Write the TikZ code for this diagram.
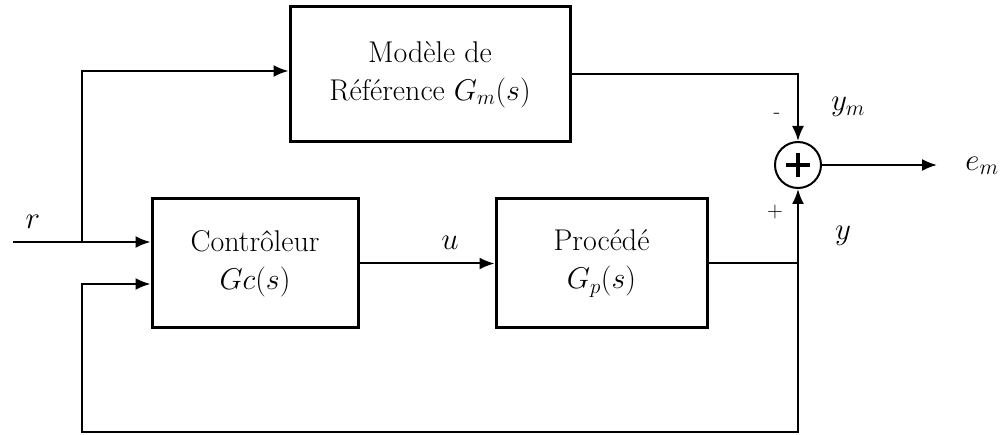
\RequirePackage{fix-cm}
\documentclass[tikz,border=0pt]{standalone}
\usepackage{fontspec}
\usetikzlibrary{arrows.meta,calc}
\begin{document}
\begin{tikzpicture}[x=1pt,y=-1pt,
  blk/.style={draw,line width=3pt,align=center,inner sep=0pt,font=\fontsize{30}{36}\selectfont},
  conn/.style={line width=2pt},
  arr/.style={line width=2pt,-{Latex[length=15pt,width=12pt]}},
  lbl/.style={font=\fontsize{31}{36}\selectfont,inner sep=0pt},
  sgn/.style={font=\fontsize{22}{24}\selectfont,inner sep=0pt}]
\useasboundingbox (0,0) rectangle (1006,435);
% blocks
\node[blk,minimum width=280pt,minimum height=135pt] (ref) at (430,74.5) {Modèle de\\[2pt]Référence $G_m(s)$};
\node[blk,minimum width=206pt,minimum height=129pt] (ctrl) at (255,263.5) {Contrôleur\\[2pt]$Gc(s)$};
\node[blk,minimum width=211pt,minimum height=129pt] (proc) at (601.5,263.5) {Procédé\\[2pt]$G_p(s)$};
\node[draw,circle,line width=2pt,minimum size=46pt,inner sep=0pt] (sum) at (798,165) {};
\draw[line width=4.5pt] ($(sum.center)+(-12,0)$) -- ($(sum.center)+(12,0)$)
  ($(sum.center)+(0,-12)$) -- ($(sum.center)+(0,12)$);
% coordinates
\coordinate (rin) at (13,242);
\coordinate (br) at (82,242);
\coordinate (t1) at (82,71);
\coordinate (fbr) at (798,432);
\coordinate (fbl) at (82,432);
\coordinate (fbin) at (82,284);
\coordinate (em) at (937,165);
% connectors
\draw[arr] (rin) -- (rin -| ctrl.west);
\draw[arr] (br) -- (t1) -- (t1 -| ref.west);
\draw[arr] (ref.east) -| (sum.north);
\draw[arr] (ctrl.east) -- (proc.west);
\draw[arr] (proc.east) -| (sum.south);
\draw[arr] (proc.east -| sum.south) -- (fbr) -- (fbl) -- (fbin) -- (fbin -| ctrl.west);
\draw[arr] (sum.east) -- (em);
% labels
\node[lbl] (lr) at (33,222) {$r$};
\node[lbl] (lu) at (450,243) {$u$};
\node[lbl] (lym) at (848,107) {$y_m$};
\node[lbl] (ly) at (843,236) {$y$};
\node[lbl] (lem) at (982,166) {$e_m$};
\node[sgn] (lminus) at (777,116) {-};
\node[sgn] (lplus) at (775,212) {+};
\end{tikzpicture}
\end{document}
